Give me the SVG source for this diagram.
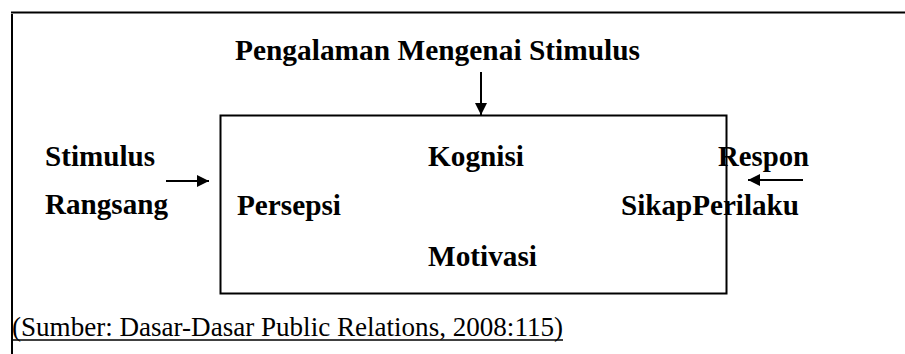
<svg xmlns="http://www.w3.org/2000/svg" width="905" height="354" viewBox="0 0 905 354">
<defs>
<marker id="ah" markerWidth="12" markerHeight="12" refX="12" refY="6" orient="auto" markerUnits="userSpaceOnUse"><path d="M0,0 L12,6 L0,12 Z" fill="#000"/></marker>
<style>
.b{font-family:"Liberation Serif","Times New Roman",serif;font-weight:bold;font-size:30px;fill:#000}
.r{font-family:"Liberation Serif","Times New Roman",serif;font-size:27px;fill:#000}
.ln{stroke:#000;stroke-width:2;fill:none}
</style>
</defs>
<rect width="905" height="354" fill="#fff"/>
<g id="frame">
<line class="ln" x1="11" y1="12.5" x2="905" y2="12.5"/>
<line class="ln" x1="12" y1="14" x2="12" y2="354"/>
</g>
<g id="box">
<rect x="220.5" y="115.5" width="506" height="178" fill="none" stroke="#000" stroke-width="2"/>
<text class="b" x="428" y="166" textLength="96" lengthAdjust="spacingAndGlyphs">Kognisi</text>
<text class="b" x="237" y="215" textLength="104" lengthAdjust="spacingAndGlyphs">Persepsi</text>
<text class="b" x="428" y="266" textLength="109" lengthAdjust="spacingAndGlyphs">Motivasi</text>
</g>
<g id="title"><text class="b" x="235" y="60" textLength="405" lengthAdjust="spacingAndGlyphs">Pengalaman Mengenai Stimulus</text></g>
<g id="stimulus">
<text class="b" x="45" y="166" textLength="110" lengthAdjust="spacingAndGlyphs">Stimulus</text>
<text class="b" x="45" y="214" textLength="123" lengthAdjust="spacingAndGlyphs">Rangsang</text>
</g>
<g id="respon">
<text class="b" x="718" y="166" textLength="91" lengthAdjust="spacingAndGlyphs">Respon</text>
<text class="b" x="621" y="215" textLength="178" lengthAdjust="spacingAndGlyphs">SikapPerilaku</text>
</g>
<g id="connectors">
<line class="ln" x1="481" y1="72" x2="481" y2="115" marker-end="url(#ah)"/>
<line class="ln" x1="166" y1="181" x2="209" y2="181" marker-end="url(#ah)"/>
<line class="ln" x1="803" y1="180" x2="748" y2="180" marker-end="url(#ah)"/>
</g>
<g id="source">
<text class="r" x="12" y="336" textLength="551" lengthAdjust="spacingAndGlyphs">(Sumber: Dasar-Dasar Public Relations, 2008:115)</text>
<line x1="12" y1="340" x2="563" y2="340" stroke="#000" stroke-width="1.5"/>
</g>
</svg>
